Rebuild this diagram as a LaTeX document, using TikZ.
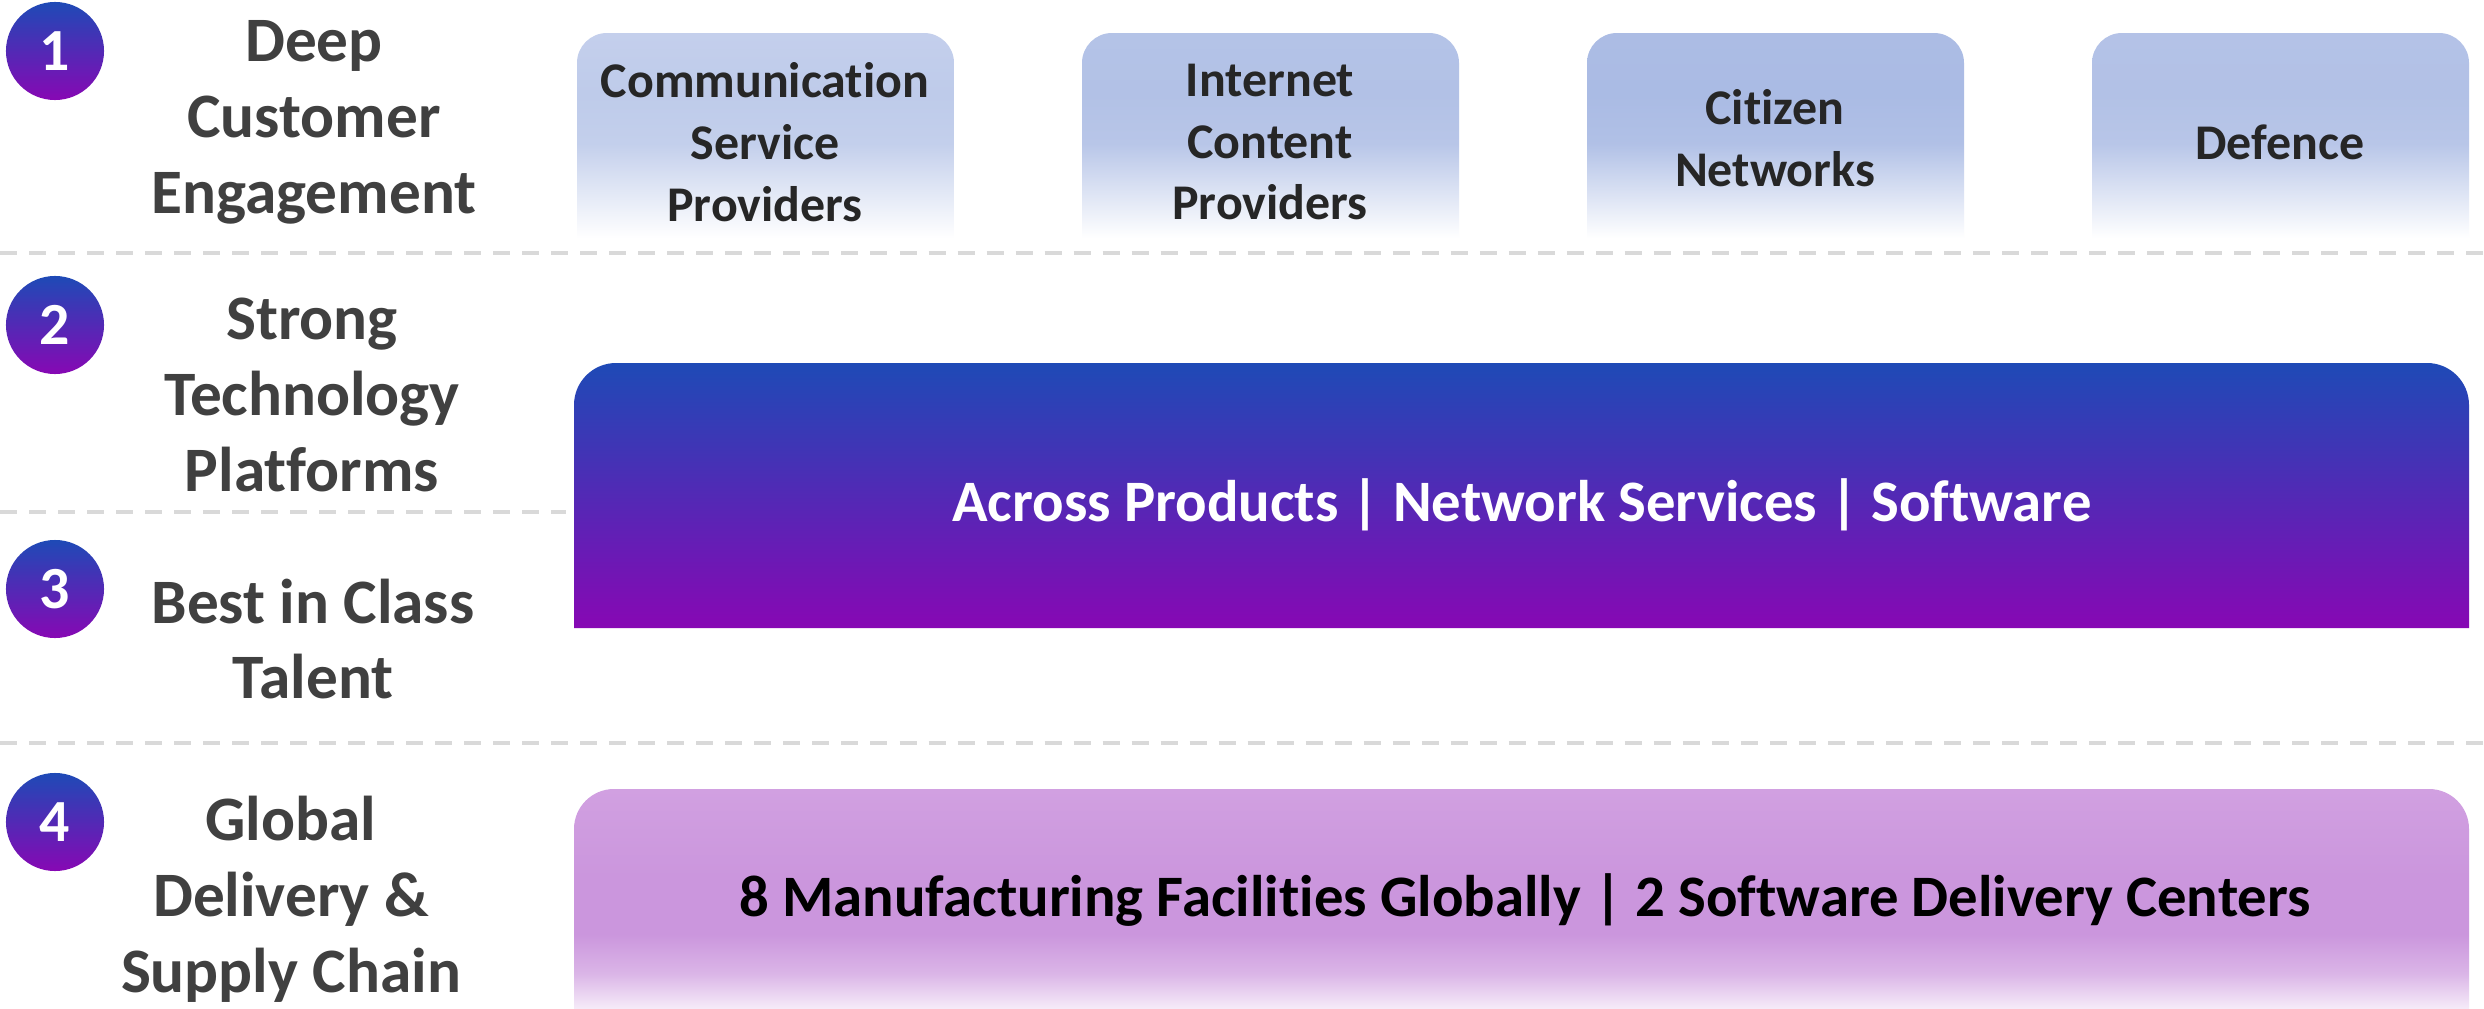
\documentclass[tikz,border=0pt]{standalone}
\usepackage{fontspec}
\setmainfont{Carlito}[Ligatures=NoCommon]
\definecolor{gblue}{RGB}{30,74,182}
\definecolor{gpurp}{RGB}{135,8,180}
\definecolor{dashgray}{RGB}{217,217,217}
\definecolor{labelgray}{RGB}{64,64,64}
\definecolor{boxtext}{RGB}{38,38,38}
\definecolor{bAt}{RGB}{196,207,236}\definecolor{bAm}{RGB}{190,203,234}
\definecolor{bBt}{RGB}{180,195,231}\definecolor{bBm}{RGB}{178,193,230}
\definecolor{bCt}{RGB}{172,188,228}\definecolor{bCm}{RGB}{170,187,228}
\definecolor{bDt}{RGB}{180,194,231}\definecolor{bDm}{RGB}{178,193,230}
\definecolor{lilt}{RGB}{209,160,225}\definecolor{lilm}{RGB}{203,150,221}
\definecolor{lilb}{RGB}{246,236,249}
\pgfdeclareverticalshading{fadeA}{100bp}{color(0bp)=(white); color(25bp)=(white); color(35bp)=(bAm!40!white); color(48bp)=(bAm!92!white); color(60bp)=(bAm); color(75bp)=(bAt); color(100bp)=(bAt)}
\pgfdeclareverticalshading{fadeB}{100bp}{color(0bp)=(white); color(25bp)=(white); color(35bp)=(bBm!40!white); color(48bp)=(bBm!92!white); color(60bp)=(bBm); color(75bp)=(bBt); color(100bp)=(bBt)}
\pgfdeclareverticalshading{fadeC}{100bp}{color(0bp)=(white); color(25bp)=(white); color(35bp)=(bCm!40!white); color(48bp)=(bCm!92!white); color(60bp)=(bCm); color(75bp)=(bCt); color(100bp)=(bCt)}
\pgfdeclareverticalshading{fadeD}{100bp}{color(0bp)=(white); color(25bp)=(white); color(35bp)=(bDm!40!white); color(48bp)=(bDm!92!white); color(60bp)=(bDm); color(75bp)=(bDt); color(100bp)=(bDt)}
\pgfdeclareverticalshading{fadeL}{100bp}{color(0bp)=(lilb); color(25bp)=(lilb); color(33bp)=(lilm!70!white); color(42bp)=(lilm); color(55bp)=(lilm); color(75bp)=(lilt); color(100bp)=(lilt)}
\pgfdeclareverticalshading{gradP}{100bp}{color(0bp)=(gpurp); color(25bp)=(gpurp); color(75bp)=(gblue); color(100bp)=(gblue)}
\newcommand\tbox[6]{% #1 shading, #2 x1, #3 yt, #4 x2, #5 yb, #6 r
  \shade[shading=#1] (#2,#5) -- (#2,#3+#6) arc[start angle=180,end angle=270,radius=#6] -- (#4-#6,#3) arc[start angle=270,end angle=360,radius=#6] -- (#4,#5) -- cycle;}
\tikzset{
  sep/.style={draw=dashgray, line width=0.04cm, dash pattern=on 0.17cm off 0.12cm},
  num/.style={circle, minimum size=0.98cm, inner sep=0pt, shading=gradP, text=white, font=\bfseries\fontsize{17}{20}\selectfont},
  lbl/.style={align=center, inner sep=0pt, text=labelgray, font=\bfseries\fontsize{18}{21.6}\selectfont},
  btxt/.style={align=center, inner sep=0pt, text=boxtext, font=\bfseries\fontsize{14.2}{17.6}\selectfont},
  band/.style={inner sep=0pt, font=\bfseries\fontsize{16.7}{20}\selectfont}
}
\begin{document}
\begin{tikzpicture}[x=0.01cm, y=-0.01cm]
\useasboundingbox (0,0) rectangle (2484,1009);
\fill[white] (0,0) rectangle (2484,1009);
% separators
\coordinate (s1a) at (0,253); \coordinate (s1b) at (2484,253);
\coordinate (s2a) at (0,512); \coordinate (s2b) at (566,512);
\coordinate (s3a) at (0,743); \coordinate (s3b) at (2484,743);
\draw[sep] (s1a) -- (s1b);
\draw[sep] (s2a) -- (s2b);
\draw[sep] (s3a) -- (s3b);
% number circles
\node[num] (n1) at (55,51) {1};
\node[num] (n2) at (55,325) {2};
\node[num] (n3) at (55,589) {3};
\node[num] (n4) at (55,822) {4};
% labels
\node[lbl] (l1) at (314,122) {Deep\\Customer\\Engagement};
\node[lbl] (l2) at (312,395) {Strong\\Technology\\Platforms};
\node[lbl] (l3) at (313,639) {Best in Class\\Talent};
\node[lbl] (l4) at (291,899) {Global\\Delivery \&\\Supply Chain};
% top boxes
\tbox{fadeA}{577}{33}{954}{238}{30}
\tbox{fadeB}{1082}{33}{1459}{238}{30}
\tbox{fadeC}{1587}{33}{1964}{238}{30}
\tbox{fadeD}{2092}{33}{2469}{238}{30}
\node[btxt] (t1) at (765,142) {Communication\\Service\\Providers};
\node[btxt] (t2) at (1270,142) {Internet\\Content\\Providers};
\node[btxt] (t3) at (1775,138) {Citizen\\Networks};
\node[btxt] (t4) at (2280,142) {Defence};
% platform band
\tbox{gradP}{574}{363}{2469}{628}{42}
\node[band, text=white] (mid) at (1522,505) {Across Products | Network Services | Software};
% delivery band
\tbox{fadeL}{574}{789}{2469}{1009}{40}
\node[band, text=black] (bot) at (1525,900) {8 Manufacturing Facilities Globally | 2 Software Delivery Centers};
\end{tikzpicture}
\end{document}
